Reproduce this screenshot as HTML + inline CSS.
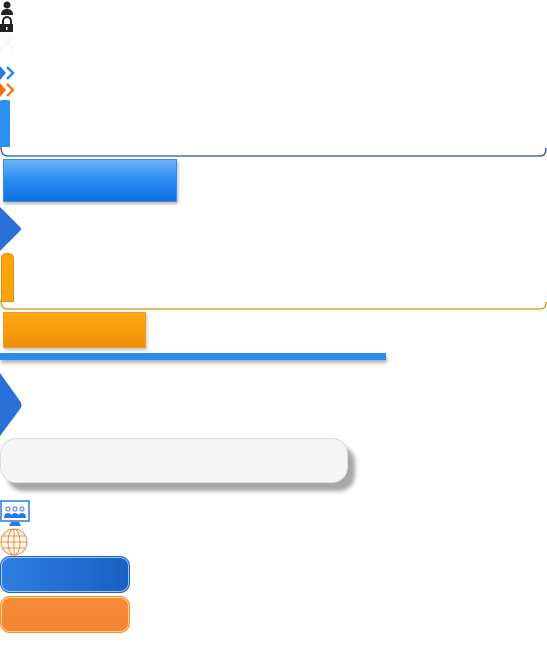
<!DOCTYPE html>
<html><head><meta charset="utf-8"><style>
html,body{margin:0;padding:0;width:547px;height:650px;background:#fff;overflow:hidden;position:relative;font-family:"Liberation Sans",sans-serif}
.a{position:absolute}
</style></head><body>
<svg class="a" style="left:0;top:1px" width="15" height="15" viewBox="0 0 15 15"><circle cx="7" cy="4" r="3.5" fill="#222"/><path d="M1 14 Q1 8 7 8 Q13 8 13 14 Z" fill="#222"/></svg>
<svg class="a" style="left:0;top:16px" width="14" height="17" viewBox="0 0 14 17"><path d="M3 8 V5 a4 4 0 0 1 8 0 V8" stroke="#222" stroke-width="2" fill="none"/><rect x="0" y="8" width="13" height="8" fill="#222"/><rect x="6" y="11" width="1.5" height="3" fill="#fff"/></svg>
<svg class="a" style="left:0;top:33px" width="15" height="28" viewBox="0 0 15 28"><circle cx="7" cy="6" r="4" stroke="#e4eef8" fill="none"/><path d="M1 18 Q1 11 7 11 Q13 11 13 18" stroke="#e4eef8" fill="none"/></svg>
<svg class="a" style="left:0;top:65px" width="16" height="16" viewBox="0 0 16 16"><path d="M0 1 L6 8 L0 15 Z" fill="#2a78e0"/><path d="M7 2 L13 8 L7 14" stroke="#2a8ae8" stroke-width="2.5" fill="none"/></svg>
<svg class="a" style="left:0;top:82px" width="16" height="16" viewBox="0 0 16 16"><path d="M0 1 L6 8 L0 15 Z" fill="#f07010"/><path d="M7 2 L13 8 L7 14" stroke="#f07a20" stroke-width="2.5" fill="none"/></svg>
<div class="a" style="left:0;top:100px;width:10px;height:47px;background:#2e8ef0;border-radius:2px 2px 0 0"></div>
<svg class="a" style="left:0;top:140px" width="547" height="20"><path d="M1 7 Q1 16 8 16 L540 16 Q546 16 546 8" stroke="#2c4f8c" stroke-width="1.3" fill="none"/></svg>
<div class="a" style="left:3px;top:159px;width:172px;height:41px;border:1px solid #3a90e8;background:linear-gradient(#6cb4fa,#2a8af0 50%,#1070e0);box-shadow:1px 2px 3px rgba(0,0,0,.3)"></div>
<svg class="a" style="left:0;top:207px" width="22" height="44"><path d="M0 0 L20 20 Q22 22 20 24 L0 44 Z" fill="#2a70d8"/></svg>
<div class="a" style="left:1px;top:253px;width:11px;height:47px;background:#ffa40a;border:1px solid #e09010;border-radius:5px 5px 0 0"></div>
<svg class="a" style="left:0;top:296px" width="547" height="16"><path d="M1 4 Q1 13 8 13 L540 13 Q546 13 546 6" stroke="#d4901a" stroke-width="1.3" fill="none"/></svg>
<div class="a" style="left:3px;top:312px;width:141px;height:34px;border:1px solid #f0a020;background:linear-gradient(#ffa810,#f09008);box-shadow:1px 2px 3px rgba(0,0,0,.25)"></div>
<div class="a" style="left:0;top:353px;width:386px;height:7px;background:#2a8af0;box-shadow:1px 3px 3px rgba(0,0,0,.3)"></div>
<svg class="a" style="left:0;top:373px" width="23" height="63"><path d="M0 0 L20 28 Q23 32 20 36 L0 63 Z" fill="#2a70d8"/></svg>
<div class="a" style="left:0;top:438px;width:346px;height:43px;background:#f5f5f5;border:1px solid #dcdcdc;border-radius:16px;box-shadow:7px 8px 4px rgba(0,0,0,.35)"></div>
<svg class="a" style="left:0;top:500px" width="31" height="28" viewBox="0 0 31 28"><rect x="1" y="1" width="28" height="20" fill="#fff" stroke="#2a78e0" stroke-width="1.5"/><path d="M11 22 h8 l2 4 h-12 z" fill="#2a78e0"/><circle cx="8" cy="9" r="2" stroke="#2a78e0" fill="none"/><circle cx="15" cy="9" r="2" stroke="#2a78e0" fill="none"/><circle cx="22" cy="9" r="2" stroke="#2a78e0" fill="none"/><path d="M4 18 q0-5 4-5 q4 0 4 5z M11 18 q0-5 4-5 q4 0 4 5z M18 18 q0-5 4-5 q4 0 4 5z" fill="#2a78e0"/></svg>
<svg class="a" style="left:0;top:528px" width="29" height="28" viewBox="0 0 29 28"><g stroke="#f08a30" fill="none" stroke-width="1"><circle cx="14" cy="14" r="13"/><ellipse cx="14" cy="14" rx="6" ry="13"/><line x1="14" y1="1" x2="14" y2="27"/><line x1="1" y1="14" x2="27" y2="14"/><line x1="3" y1="8" x2="25" y2="8"/><line x1="3" y1="20" x2="25" y2="20"/></g></svg>
<div class="a" style="left:0;top:556px;width:128px;height:35px;border:1px solid #1a64c8;border-radius:10px;background:linear-gradient(90deg,#2e7ee0,#1860c4);box-shadow:inset 0 0 0 1px rgba(255,255,255,.6)"></div>
<div class="a" style="left:0;top:596px;width:128px;height:35px;border:1px solid #ff9410;border-radius:10px;background:linear-gradient(#f48c38,#f28430);box-shadow:inset 0 0 0 1px rgba(255,255,255,.6)"></div>
</body></html>
